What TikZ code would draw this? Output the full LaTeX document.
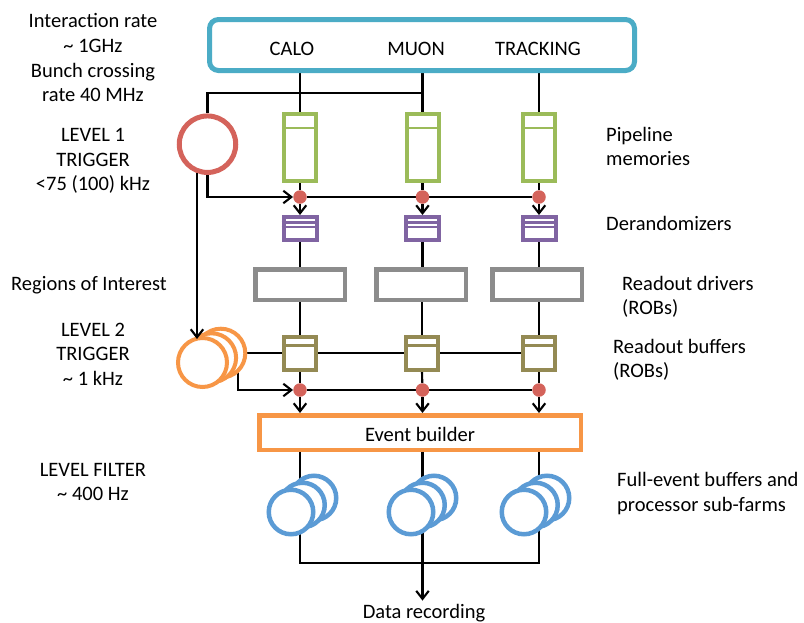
\documentclass[tikz,border=0pt]{standalone}
\usepackage{fontspec}
\setmainfont{Carlito}
\usetikzlibrary{arrows.meta}

\definecolor{detcyan}{HTML}{4BACC6}
\definecolor{trigred}{HTML}{D4635B}
\definecolor{pipegreen}{HTML}{9BBB59}
\definecolor{derpurple}{HTML}{8064A2}
\definecolor{rodgray}{HTML}{8C8C8C}
\definecolor{robolive}{HTML}{948A54}
\definecolor{evorange}{HTML}{F79646}
\definecolor{farmblue}{HTML}{5B9BD5}

\pgfdeclarelayer{wires}
\pgfsetlayers{wires,main}

\begin{document}
\begin{tikzpicture}[x=1pt,y=-1pt,
  txt/.style={font=\fontsize{20.5}{25}\selectfont, inner sep=0pt},
  ctxt/.style={txt, anchor=base},
  ltxt/.style={txt, anchor=base west},
  wire/.style={line width=2.1pt, black},
  arr/.style={wire, -{Straight Barb[length=8pt,width=12.5pt]}},
  detbox/.style={draw=detcyan, line width=5pt, rounded corners=9pt, fill=white,
    minimum width=425pt, minimum height=51pt, inner sep=0pt},
  pipebox/.style={draw=pipegreen, line width=4pt, fill=white,
    minimum width=32pt, minimum height=67.3pt, inner sep=0pt},
  derbox/.style={draw=derpurple, line width=4pt, fill=white,
    minimum width=33pt, minimum height=23pt, inner sep=0pt},
  rodbox/.style={draw=rodgray, line width=4.5pt, fill=white,
    minimum width=89.5pt, minimum height=30.5pt, inner sep=0pt},
  robbox/.style={draw=robolive, line width=4pt, fill=white,
    minimum width=32pt, minimum height=33pt, inner sep=0pt},
  evbox/.style={draw=evorange, line width=4.5pt, fill=white,
    minimum width=321.5pt, minimum height=34.5pt, inner sep=0pt},
  joint/.style={circle, fill=trigred, minimum size=13.5pt, inner sep=0pt},
  trigring/.style={circle, draw=trigred, line width=5pt, fill=white,
    minimum size=56.5pt, inner sep=0pt},
  ltworing/.style={circle, draw=evorange, line width=4pt, fill=white,
    minimum size=49pt, inner sep=0pt},
  farmring/.style={circle, draw=farmblue, line width=4.5pt, fill=white,
    minimum size=44.5pt, inner sep=0pt}]

\useasboundingbox (0,0) rectangle (804,622);

% ---------- detectors ----------
\node[detbox] (det) at (422,45) {};
\node[ctxt] (calo) at (292,55) {CALO};
\node[ctxt] (muon) at (416,55) {MUON};
\node[ctxt] (trk) at (538,55) {TRACKING};

% ---------- pipeline memories ----------
\node[pipebox] (pipeC) at (300,147.7) {};
\node[pipebox] (pipeM) at (422.5,147.7) {};
\node[pipebox] (pipeT) at (539,147.7) {};
\foreach \b in {pipeC,pipeM,pipeT}
  \draw[pipegreen, line width=2.2pt] ([yshift=-15.7pt]\b.north west) -- ([yshift=-15.7pt]\b.north east);

% ---------- level-1 joints ----------
\node[joint] (dotC1) at (300,197) {};
\node[joint] (dotM1) at (422.5,197) {};
\node[joint] (dotT1) at (539,197) {};

% ---------- derandomizers ----------
\node[derbox] (derC) at (300,228.5) {};
\node[derbox] (derM) at (422.5,228.5) {};
\node[derbox] (derT) at (539,228.5) {};
\foreach \b in {derC,derM,derT}{
  \draw[derpurple, line width=2.4pt] ([yshift=-7.4pt]\b.north west) -- ([yshift=-7.4pt]\b.north east);
  \draw[derpurple, line width=2.4pt] ([yshift=-12.2pt]\b.north west) -- ([yshift=-12.2pt]\b.north east);
}

% ---------- readout drivers ----------
\node[rodbox] (rodC) at (300,284.5) {};
\node[rodbox] (rodM) at (421,284.5) {};
\node[rodbox] (rodT) at (537,284.5) {};

% ---------- readout buffers ----------
\node[robbox] (robC) at (300,353.5) {};
\node[robbox] (robM) at (422,353.5) {};
\node[robbox] (robT) at (539,353.5) {};
\foreach \b in {robC,robM,robT}
  \draw[robolive, line width=3pt] ([yshift=-10pt]\b.north west) -- ([yshift=-10pt]\b.north east);

% ---------- level-2 joints ----------
\node[joint] (dotC2) at (300,390) {};
\node[joint] (dotM2) at (422.5,390) {};
\node[joint] (dotT2) at (539,390) {};

% ---------- event builder ----------
\node[evbox] (eb) at (420,432.5) {};
\node[ctxt] (ebtxt) at (420,441.7) {Event builder};

% ---------- triggers ----------
\node[trigring] (trig1) at (207.5,144.2) {};
\node[ltworing] (ltwoC) at (220.8,353.2) {};
\node[ltworing] (ltwoB) at (211.6,357.8) {};
\node[ltworing] (ltwoA) at (202.5,362.5) {};

% ---------- processor farms ----------
\node[farmring] (farmC3) at (314,498) {};
\node[farmring] (farmC2) at (302.5,505) {};
\node[farmring] (farmC1) at (291,512) {};
\node[farmring] (farmM3) at (434,498) {};
\node[farmring] (farmM2) at (422.5,505) {};
\node[farmring] (farmM1) at (411,512) {};
\node[farmring] (farmT3) at (547,498) {};
\node[farmring] (farmT2) at (535.5,505) {};
\node[farmring] (farmT1) at (524,512) {};

% ---------- data recording ----------
\node[ctxt] (rec) at (424,618) {Data recording};
\coordinate (bus) at (422.5,563);
\coordinate (bx) at (422.5,92.7);

% ---------- connectors ----------
\begin{pgfonlayer}{wires}
  \foreach \c in {C,M,T}{
    \draw[wire] (pipe\c.north) -- (pipe\c.north |- det.south);
    \draw[wire] (pipe\c.south) -- (dot\c1);
    \draw[arr] (dot\c1.south) -- (der\c.north);
    \draw[wire] (der\c.south) -- (der\c.south |- rod\c.north);
    \draw[wire] (rob\c.north) -- (rob\c.north |- rod\c.south);
    \draw[wire] (rob\c.south) -- (dot\c2);
    \draw[arr] (dot\c2.south) -- (dot\c2.south |- eb.north);
    \draw[wire] (eb.south -| dot\c2) -- (farm\c3.center -| dot\c2);
  }
  \draw[wire] (trig1.north) |- (bx);
  \draw[wire] (dotC1) -- (dotT1);
  \draw[arr] (trig1.south) |- (dotC1.west);
  \draw[wire] (ltwoC.east) -- (ltwoC.east -| robT.center);
  \draw[wire] (dotC2) -- (dotT2);
  \draw[arr] ([xshift=17.5pt]ltwoC.center) |- (dotC2.west);
  \draw[wire] (farmC1.center -| dotC2) |- (bus) -| (farmT1.center -| dotT2);
  \draw[wire] (farmM1.center -| dotM2) -- (bus);
  \draw[arr, shorten >=3pt] (bus) -- (bus |- rec.north);
\end{pgfonlayer}
\draw[arr, shorten >=-3pt] (trig1.250) -- (trig1.250 |- ltwoA.north);

% ---------- left-hand rates ----------
\node[ctxt] (ir1) at (93,27) {Interaction rate};
\node[ctxt] (ir2) at (93,52) {\char"7E{} 1GHz};
\node[ctxt] (bc1) at (93,77) {Bunch crossing};
\node[ctxt] (bc2) at (93,101.7) {rate 40 MHz};
\node[ctxt] (lva) at (93,141.7) {LEVEL 1};
\node[ctxt] (lvb) at (93,166) {TRIGGER};
\node[ctxt] (lvc) at (93,190.5) {<75 (100) kHz};
\node[ctxt] (roi) at (89,290) {Regions of Interest};
\node[ctxt] (lwa) at (93,336) {LEVEL 2};
\node[ctxt] (lwb) at (93,360) {TRIGGER};
\node[ctxt] (lwc) at (93,385) {\char"7E{} 1 kHz};
\node[ctxt] (lfa) at (93,476.7) {LEVEL FILTER};
\node[ctxt] (lfb) at (93,500.5) {\char"7E{} 400 Hz};

% ---------- right-hand descriptions ----------
\node[ltxt] (pm1) at (606,141.7) {Pipeline};
\node[ltxt] (pm2) at (606,165.5) {memories};
\node[ltxt] (drz) at (606,230) {Derandomizers};
\node[ltxt] (rd1) at (622,290) {Readout drivers};
\node[ltxt] (rd2) at (622,314.5) {(ROBs)};
\node[ltxt] (rb1) at (613,353) {Readout buffers};
\node[ltxt] (rb2) at (613,377.5) {(ROBs)};
\node[ltxt] (fe1) at (617,486.7) {Full-event buffers and};
\node[ltxt] (fe2) at (617,511.5) {processor sub-farms};
\end{tikzpicture}
\end{document}
